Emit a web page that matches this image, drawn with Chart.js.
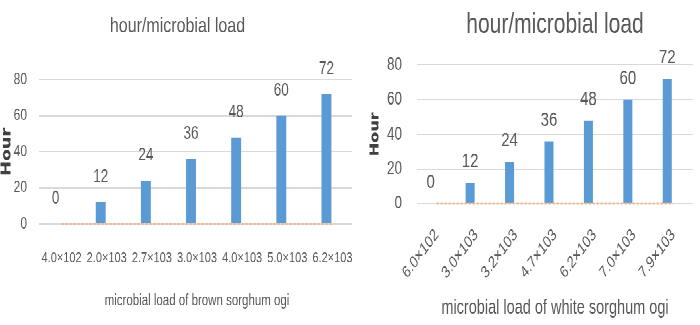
<!DOCTYPE html>
<html>
<head>
<meta charset="utf-8">
<script src="https://cdn.jsdelivr.net/npm/chart.js@4.4.1/dist/chart.umd.min.js"></script>
<style>
  html, body { margin: 0; padding: 0; background: #fff; }
  body { width: 700px; height: 325px; position: relative; overflow: hidden; }
  /* the source picture is squeezed sideways, so the charts are drawn short and stretched tall */
  .box { position: absolute; top: 0; height: 241px; background: #fff;
         transform: scaleY(1.3485); transform-origin: 0 0; }
  #leftBox { left: 0; width: 356px; }
  #rightBox { left: 352px; width: 348px; }
</style>
</head>
<body>
<div class="box" id="leftBox"><canvas id="brownChart"></canvas></div>
<div class="box" id="rightBox"><canvas id="whiteChart"></canvas></div>
<script>
// data
const brownLoads = ['4.0×102', '2.0×103', '2.7×103', '3.0×103', '4.0×103', '5.0×103', '6.2×103'];
const whiteLoads = ['6.0×102', '3.0×103', '3.2×103', '4.7×103', '6.2×103', '7.0×103', '7.9×103'];
const hours = [0, 12, 24, 36, 48, 60, 72];
const secondSeries = [0, 0, 0, 0, 0, 0, 0];
const hourTicks = [0, 20, 40, 60, 80];

const FONT = '"Liberation Sans", Arial, sans-serif';
const GREY = '#595959';

// draws the value above each blue bar
const barLabels = {
  id: 'barLabels',
  afterDatasetsDraw(chart, args, opts) {
    const ctx = chart.ctx;
    const meta = chart.getDatasetMeta(0);
    ctx.save();
    ctx.font = opts.size + 'px ' + FONT;
    ctx.fillStyle = GREY;
    ctx.textAlign = 'center';
    ctx.textBaseline = 'middle';
    meta.data.forEach((bar, i) => {
      ctx.fillText(String(chart.data.datasets[0].data[i]), bar.x, bar.y - opts.offset);
    });
    ctx.restore();
  }
};

function makeChart(id, cfg) {
  return new Chart(document.getElementById(id), {
    type: 'bar',
    data: {
      labels: cfg.labels,
      datasets: [
        { label: 'Series1', data: hours, backgroundColor: '#5B9BD5', order: 2,
          categoryPercentage: cfg.catPct, barPercentage: cfg.barPct },
        { label: 'Series2', data: secondSeries, backgroundColor: 'rgba(0,0,0,0)', order: 3,
          categoryPercentage: cfg.catPct, barPercentage: cfg.barPct },
        { type: 'line', label: 'Series3', data: secondSeries, borderColor: '#F4B183',
          borderWidth: 1.5, borderDash: [2, 2], pointRadius: 0, clip: false, order: 1 }
      ]
    },
    options: {
      responsive: true,
      maintainAspectRatio: false,
      animation: false,
      devicePixelRatio: 2,
      layout: { padding: { left: 0, right: cfg.padRight, top: 0, bottom: 0 } },
      plugins: {
        legend: { display: false },
        tooltip: { enabled: false },
        title: {
          display: true,
          fullSize: cfg.titleFull,
          text: 'hour/microbial load',
          color: GREY,
          font: { family: FONT, size: cfg.titleSize, weight: 'normal' },
          padding: cfg.titlePad
        },
        barLabels: { size: cfg.labelSize, offset: cfg.labelOffset }
      },
      scales: {
        x: {
          grid: { display: false },
          border: { display: false },
          ticks: {
            color: GREY, font: { family: FONT, size: cfg.xTickSize },
            padding: cfg.xTickPad, minRotation: cfg.rot, maxRotation: cfg.rot, autoSkip: false
          },
          title: {
            display: true, text: cfg.xTitle, color: GREY,
            font: { family: FONT, size: cfg.xTitleSize }, padding: { top: 0, bottom: cfg.xTitlePad }
          },
          afterFit: s => {
            s.height = cfg.xHeight;
            s.paddingLeft = 0;
            s.paddingRight = 0;
          }
        },
        y: {
          min: 0, max: 80,
          afterBuildTicks: s => { s.ticks = hourTicks.map(v => ({ value: v })); },
          grid: { color: '#D9D9D9', drawTicks: false, lineWidth: 1 },
          border: { display: false },
          ticks: { color: GREY, font: { family: FONT, size: cfg.yTickSize }, padding: cfg.yTickPad },
          title: {
            display: true, text: 'Hour', color: '#404040',
            font: { family: '"DejaVu Sans", sans-serif', size: cfg.yTitleSize, weight: 'bold' },
            padding: { top: cfg.yTitlePad, bottom: 0 }
          },
          afterFit: s => { s.width = cfg.yWidth; }
        }
      }
    },
    plugins: [barLabels]
  });
}

makeChart('brownChart', {
  labels: brownLoads, xTitle: 'microbial load of brown sorghum ogi',
  catPct: 0.53, barPct: 0.83, padRight: 1, titleFull: true,
  titleSize: 16, titlePad: { top: 10, bottom: 30 },
  labelSize: 13.5, labelOffset: 18.5,
  xTickSize: 11, xTickPad: 11, rot: 0, xTitleSize: 11.5, xTitlePad: 11, xHeight: 75,
  yTickSize: 12, yTickPad: 12, yTitleSize: 13, yTitlePad: -0.5, yWidth: 39
});

// right panel: its title sits over the plot only, not the whole canvas
makeChart('whiteChart', {
  labels: whiteLoads, xTitle: 'microbial load of white sorghum ogi',
  catPct: 0.61, barPct: 0.75, padRight: 7, titleFull: false,
  titleSize: 21, titlePad: { top: 6, bottom: 17 },
  labelSize: 15, labelOffset: 15.6,
  xTickSize: 12.5, xTickPad: 8, rot: 45, xTitleSize: 14.5, xTitlePad: 4, xHeight: 90,
  yTickSize: 13.5, yTickPad: 15, yTitleSize: 12, yTitlePad: 16, yWidth: 65
});
</script>
</body>
</html>
